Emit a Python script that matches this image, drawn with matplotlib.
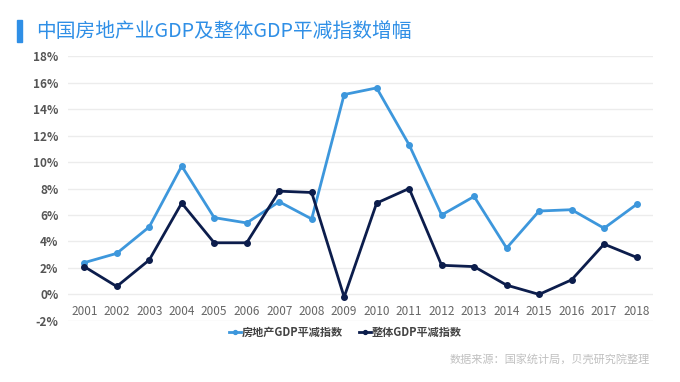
import matplotlib
matplotlib.use('Agg')
import matplotlib.pyplot as plt
import matplotlib.ticker as ticker

plt.rcParams['font.family'] = ['Noto Sans CJK SC', 'DejaVu Sans']

years = list(range(2001, 2019))
realty = [2.4, 3.1, 5.1, 9.7, 5.8, 5.4, 7.0, 5.7, 15.1, 15.6, 11.3, 6.0, 7.4, 3.5, 6.3, 6.4, 5.0, 6.8]
overall = [2.1, 0.6, 2.6, 6.9, 3.9, 3.9, 7.8, 7.7, -0.2, 6.9, 8.0, 2.2, 2.1, 0.7, 0.0, 1.1, 3.8, 2.8]
names = ['房地产GDP平减指数', '整体GDP平减指数']
col = ['#3d97dc', '#0c1d4c']

fig = plt.figure(figsize=(6.8, 3.82), dpi=100)
ax = fig.add_axes([0.1, 0.16, 0.86, 0.693])

ax.plot(years, realty, color=col[0], lw=2, marker='o', ms=4, label=names[0])
ax.plot(years, overall, color=col[1], lw=2, marker='o', ms=4, label=names[1])

ax.set_xlim(2000.5, 2018.5)
ax.set_ylim(-2, 18)
ax.set_yticks(range(-2, 19, 2))
ax.yaxis.set_major_formatter(ticker.FuncFormatter(lambda v, p: '%d%%' % v))
ax.set_xticks(years)
ax.spines['bottom'].set_position(('data', 0))
for s in ax.spines.values():
    s.set_visible(False)
ax.grid(axis='y', color='#ececec', lw=1)
ax.set_axisbelow(True)
ax.tick_params(length=0, labelsize=8.5)
ax.tick_params(axis='x', pad=7.5, colors='#666666')
ax.tick_params(axis='y', pad=7, colors='#555555')
for t in ax.get_yticklabels():
    t.set_fontweight('bold')

leg = fig.legend(loc='center', bbox_to_anchor=(0.508, 0.13), ncol=2, frameon=False,
                 fontsize=8, handlelength=1.1, handletextpad=0.1, columnspacing=1.4,
                 markerscale=0.7)
for t in leg.get_texts():
    t.set_color('#444444')
    t.set_fontweight('bold')

# title with blue bar
fig.patches.append(plt.Rectangle((17 / 680, 1 - 42 / 382), 5 / 680, 22 / 382,
                                 transform=fig.transFigure, color='#2f8fe6'))
fig.text(36 / 680, 1 - 31 / 382, '中国房地产业GDP及整体GDP平减指数增幅', fontsize=14.2,
         color='#2f8fe6', va='center', ha='left')
fig.text(650 / 680, 1 - 359 / 382, '数据来源：国家统计局，贝壳研究院整理', fontsize=8,
         color='#c0c0c0', va='center', ha='right')

fig.savefig('out.png', dpi=100)
